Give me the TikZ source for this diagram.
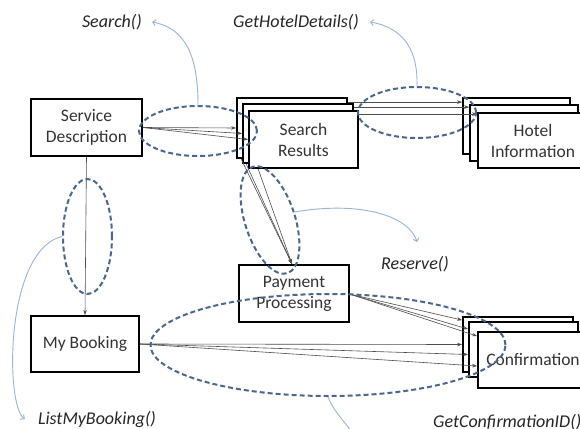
\documentclass[tikz,border=0pt]{standalone}
\usepackage{fontspec}
\setmainfont{Carlito}
\usetikzlibrary{arrows.meta,calc,shapes.geometric}
\definecolor{ell}{HTML}{4A6790}
\definecolor{call}{HTML}{98B4D8}
\definecolor{conn}{HTML}{4D4D4D}
\begin{document}
\begin{tikzpicture}[x=1pt,y=-1pt,
  box/.style={draw=black, line width=1.8pt, fill=white, inner sep=0pt, align=center,
    font=\fontsize{17.5}{21}\selectfont, text=black!80},
  lbl/.style={font=\fontsize{18}{21}\itshape, text=black!85, inner sep=2pt},
  conn/.style={draw=conn, line width=0.6pt, -{Stealth[length=5pt,width=3.5pt]}},
  dell/.style={draw=ell, line width=2pt, dash pattern=on 5pt off 3pt, ellipse, inner sep=0pt},
  callout/.style={draw=call, line width=0.9pt, -{Straight Barb[length=3pt,width=6pt]}}]
\useasboundingbox (0,0) rectangle (580,428);
\fill[white] (0,0) rectangle (580,428);

% boxes
\node[box, minimum width=111, minimum height=57] (sd) at (86.5,127.5) {Service\\Description};
\node[box, minimum width=110, minimum height=60] (sr1) at (292,128) {};
\node[box, minimum width=110, minimum height=59] (sr2) at (298,133.5) {};
\node[box, minimum width=109, minimum height=57] (sr3) at (303.5,139.5) {Search\\Results};
\node[box, minimum width=107, minimum height=56] (hi1) at (516.5,126) {};
\node[box, minimum width=108, minimum height=56] (hi2) at (524,133) {};
\node[box, minimum width=110, minimum height=55] (hi3) at (533,140.5) {Hotel\\Information};
\node[box, minimum width=110, minimum height=57] (pp) at (294,293.5) {Payment\\Processing};
\node[box, minimum width=108, minimum height=56] (mb) at (85,344) {My Booking};
\node[box, minimum width=110, minimum height=55] (cf1) at (518,344.5) {};
\node[box, minimum width=109, minimum height=55] (cf2) at (523.5,349.5) {};
\node[box, minimum width=110, minimum height=56] (cf3) at (533,360) {Confirmation};

% connectors
\draw[conn] (sd.east) -- (sr1.west);
\draw[conn] (sd.east) -- (sr2.west);
\draw[conn] (sd.east) -- (sr3.west);
\draw[conn] ($(sr1.north east)+(0,5)$) -- ($(hi1.north west)+(0,5)$);
\draw[conn] ($(sr2.north east)+(0,4)$) -- ($(hi2.north west)+(0,3)$);
\draw[conn] ($(sr3.north east)+(0,4)$) -- ($(hi3.north west)+(0,2)$);
\draw[conn] ($(sr1.south west)+(5,0)$) -- ($(pp.north)+(-2,0)$);
\draw[conn] ($(sr2.south west)+(4,0)$) -- ($(pp.north)+(-2,0)$);
\draw[conn] ($(sr3.south west)+(10,0)$) -- ($(pp.north)+(-2,0)$);
\draw[conn] (sd.south) -- (mb.north);
\draw[conn] (mb.east) -- (cf1.west);
\draw[conn] (mb.east) -- ($(cf2.west)+(0,5)$);
\draw[conn] (mb.east) -- ($(cf3.west)+(0,6)$);
\draw[conn] ($(pp.north east)+(0,30)$) -- ($(cf1.north west)+(0,4)$);
\draw[conn] ($(pp.north east)+(0,30)$) -- ($(cf2.north west)+(0,8)$);
\draw[conn] ($(pp.north east)+(0,30)$) -- ($(cf3.north west)+(0,5)$);

% dashed ellipses
\node[dell, minimum width=118, minimum height=50] (e1) at (198,131) {};
\node[dell, minimum width=118, minimum height=51] (e2) at (417,112.5) {};
\node[dell, minimum width=49, minimum height=115] (e3) at (87.5,236.5) {};
\node[dell, minimum width=50, minimum height=112, rotate=18] (e4) at (270,220) {};
\node[dell, minimum width=355, minimum height=102] (e5) at (328,345) {};

% labels
\node[lbl] (l1) at (112,22) {Search()};
\node[lbl] (l2) at (296,22) {GetHotelDetails()};
\node[lbl] (l3) at (415,264) {Reserve()};
\node[lbl] (l4) at (97,419) {ListMyBooking()};
\node[lbl, anchor=west] (l5) at (431,422) {GetConfirmationID()};
\coordinate (c5end) at (352,432);

% callouts
\draw[callout] (e1.north) .. controls (198,55) and (185,28) .. ($(l1.east)+(8,0)$);
\draw[callout] (e2.north) .. controls (418,52) and (405,28) .. ($(l2.east)+(9,0)$);
\draw[callout] (e4.east) .. controls (365,200) and (410,218) .. ($(l3.north)+(2,-12)$);
\draw[callout] (e3.west) .. controls (5,250) and (5,405) .. ($(l4.west)+(-11,0)$);
\draw[draw=call, line width=0.9pt] (e5.south) .. controls (333,410) and (343,420) .. (c5end);
\end{tikzpicture}
\end{document}
